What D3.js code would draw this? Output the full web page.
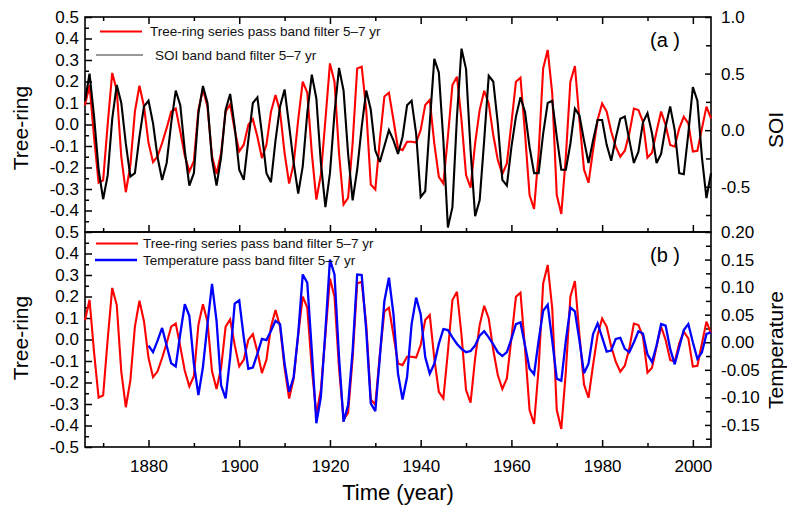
<!DOCTYPE html>
<html>
<head>
<meta charset="utf-8">
<script src="https://cdn.jsdelivr.net/npm/d3@7"></script>
<style>
  html, body { margin: 0; padding: 0; background: #fff; }
  svg { display: block; font-family: "Liberation Sans", Arial, sans-serif; }
</style>
</head>
<body>
<svg id="chart" width="787" height="508"></svg>
<script>
// Annual series, 1866-2004
const firstYear = 1866;
const tempFirstYear = 1880;

// Tree-ring series, 5-7 yr band-pass filtered
const treeRing = [
  0.09, 0.185, -0.06, -0.27, -0.26, 0.0, 0.24, 0.16, -0.15, -0.315,
  -0.19, 0.06, 0.18, 0.085, -0.085, -0.175, -0.148, -0.086, -0.017, 0.06,
  0.074, -0.032, -0.145, -0.218, -0.171, 0.068, 0.164, 0.083, -0.148, -0.23,
  -0.133, 0.06, 0.094, -0.025, -0.125, -0.094, -0.002, 0.025, -0.056, -0.156,
  -0.094, 0.06, 0.137, 0.06, -0.133, -0.275, -0.182, 0.022, 0.199, 0.148,
  -0.133, -0.349, -0.233, 0.022, 0.284, 0.199, -0.133, -0.372, -0.341, -0.086,
  0.261, 0.269, 0.068, -0.279, -0.302, -0.07, 0.13, 0.148, 0.021, -0.111,
  -0.119, -0.08, -0.08, -0.084, -0.026, 0.091, 0.114, -0.088, -0.243, -0.274,
  -0.057, 0.184, 0.222, 0.021, -0.235, -0.294, -0.088, 0.067, 0.157, 0.098,
  -0.049, -0.165, -0.23, -0.181, 0.005, 0.199, 0.218, -0.041, -0.328, -0.393,
  -0.134, 0.261, 0.347, 0.145, -0.328, -0.416, -0.15, 0.199, 0.272, 0.021,
  -0.209, -0.271, -0.119, 0.021, 0.098, 0.06, -0.033, -0.103, -0.15, -0.122,
  -0.041, 0.074, 0.067, 0.013, -0.154, -0.131, -0.033, 0.06, -0.002, -0.095,
  -0.103, -0.018, 0.036, 0.005, -0.126, -0.122, -0.018, 0.083, 0.029
];

// SOI, 5-7 yr band-pass filtered
const soi = [
  0.26, 0.50, 0.12, -0.35, -0.61, -0.40, 0.10, 0.40, 0.24, -0.12,
  -0.41, -0.38, -0.06, 0.21, 0.26, 0.06, -0.24, -0.44, -0.29, 0.06,
  0.35, 0.22, -0.18, -0.49, -0.38, 0.15, 0.39, 0.24, -0.26, -0.49,
  -0.24, 0.18, 0.32, 0.03, -0.35, -0.44, -0.09, 0.24, 0.29, -0.03,
  -0.38, -0.46, -0.09, 0.21, 0.36, 0.04, -0.29, -0.56, -0.32, 0.15,
  0.49, 0.28, -0.29, -0.68, -0.38, 0.15, 0.55, 0.35, -0.21, -0.62,
  -0.35, 0.03, 0.35, 0.18, -0.18, -0.28, -0.14, 0.0, -0.09, -0.21,
  -0.06, 0.22, 0.26, -0.03, -0.59, -0.54, 0.06, 0.63, 0.51, -0.09,
  -0.86, -0.68, 0.12, 0.72, 0.54, -0.18, -0.76, -0.62, -0.09, 0.48,
  0.43, 0.06, -0.44, -0.49, -0.15, 0.12, 0.29, 0.16, -0.15, -0.38,
  -0.38, -0.03, 0.24, 0.26, -0.06, -0.35, -0.35, -0.12, 0.19, 0.13,
  -0.09, -0.29, -0.09, 0.09, 0.09, -0.13, -0.27, -0.07, 0.10, 0.12,
  -0.09, -0.29, -0.19, 0.07, 0.15, -0.03, -0.29, -0.21, 0.03, 0.21,
  0.0, -0.38, -0.39, -0.03, 0.38, 0.26, -0.24, -0.60, -0.38
];

// Temperature, 5-7 yr band-pass filtered (from 1880)
const temperature = [
  -0.006, -0.018, 0.003, 0.026, -0.006, -0.038, -0.044, 0.015, 0.069, 0.048,
  -0.039, -0.096, -0.045, 0.033, 0.106, 0.039, -0.078, -0.102, -0.027, 0.070,
  0.076, 0.009, -0.048, -0.046, -0.021, 0.006, 0.004, 0.021, 0.039, 0.033,
  -0.039, -0.090, -0.063, 0.015, 0.123, 0.108, -0.015, -0.147, -0.099, 0.021,
  0.150, 0.123, -0.027, -0.144, -0.114, -0.015, 0.123, 0.122, 0.021, -0.111,
  -0.125, -0.027, 0.075, 0.117, 0.051, -0.057, -0.104, -0.063, 0.033, 0.081,
  0.051, -0.027, -0.057, -0.039, -0.003, 0.024, 0.022, 0.009, -0.003, -0.012,
  -0.018, -0.016, -0.006, 0.012, 0.020, 0.009, -0.004, -0.018, -0.025, -0.018,
  0.006, 0.033, 0.036, -0.006, -0.048, -0.058, 0.003, 0.057, 0.068, 0.003,
  -0.066, -0.070, 0.003, 0.063, 0.056, 0.003, -0.056, -0.039, 0.015, 0.034,
  0.009, -0.017, -0.015, 0.006, 0.008, -0.012, -0.018, 0.0, 0.020, 0.016,
  -0.022, -0.036, -0.006, 0.033, 0.030, -0.012, -0.040, -0.009, 0.022, 0.033,
  0.0, -0.030, -0.018, 0.015, 0.018
];

// Axis ticks and labels
const yearTicks = [1880, 1900, 1920, 1940, 1960, 1980, 2000];
const yearMinorTicks = [1870, 1890, 1910, 1930, 1950, 1970, 1990];
const treeTicksA = [0.5, 0.4, 0.3, 0.2, 0.1, 0.0, -0.1, -0.2, -0.3, -0.4];
const treeTicksB = [0.5, 0.4, 0.3, 0.2, 0.1, 0.0, -0.1, -0.2, -0.3, -0.4, -0.5];
const soiTicks = [1.0, 0.5, 0.0, -0.5];
const soiMinorTicks = [0.75, 0.25, -0.25, -0.75];
const tempTicks = [0.20, 0.15, 0.10, 0.05, 0.00, -0.05, -0.10, -0.15];
const legendA = ["Tree-ring series pass band filter 5\u20137 yr", "SOI band band filter 5\u20137 yr"];
const legendB = ["Tree-ring series pass band filter 5\u20137 yr", "Temperature pass band filter 5\u20137 yr"];

const RED = "#ff0000", BLUE = "#0000ff", BLACK = "#000000";

const svg = d3.select("#chart");
svg.append("rect").attr("width", 787).attr("height", 508).attr("fill", "#fff");

const L = 85, R = 711;
const topA = 17, botA = 232, topB = 232, botB = 447;

const x = d3.scaleLinear().domain([1866, 2004]).range([L, R]);
const yTreeA = d3.scaleLinear().domain([-0.5, 0.5]).range([botA, topA]);
const ySoi = d3.scaleLinear().domain([-0.9, 1.0]).range([botA, topA]);
const yTreeB = d3.scaleLinear().domain([-0.5, 0.5]).range([botB, topB]);
const yTemp = d3.scaleLinear().domain([-0.19, 0.2]).range([botB, topB]);

const years = treeRing.map((_, i) => firstYear + i);
const tempYears = temperature.map((_, i) => tempFirstYear + i);

const fmt1 = v => d3.format(".1f")(v).replace("\u2212", "-");
const fmt2 = v => d3.format(".2f")(v).replace("\u2212", "-");

function styleAxis(g, size) {
  g.select(".domain").remove();
  g.selectAll("line").attr("stroke", "#000").attr("stroke-width", 1.5);
  g.selectAll("text")
    .attr("font-family", "'Liberation Sans', Arial, sans-serif")
    .attr("font-size", size).attr("fill", "#000");
}

// ---- x axes (ticks point inward) ----
function xAxes(yPos, dir, withLabels) {
  const major = (dir === "bottom" ? d3.axisBottom(x) : d3.axisTop(x))
    .tickValues(yearTicks).tickSizeInner(-7).tickSizeOuter(0).tickPadding(13)
    .tickFormat(withLabels ? d3.format("d") : "");
  const gM = svg.append("g").attr("transform", `translate(0,${yPos})`).call(major);
  styleAxis(gM, 17);
  const minor = (dir === "bottom" ? d3.axisBottom(x) : d3.axisTop(x))
    .tickValues(yearMinorTicks).tickSizeInner(-4).tickSizeOuter(0).tickFormat("");
  styleAxis(svg.append("g").attr("transform", `translate(0,${yPos})`).call(minor), 17);
}
xAxes(botB, "bottom", true);
xAxes(botA, "bottom", false);
xAxes(topA, "top", false);

// ---- left axes ----
function leftAxis(scale, ticks, minorTicks) {
  const g = svg.append("g").attr("transform", `translate(${L},0)`)
    .call(d3.axisLeft(scale).tickValues(ticks).tickFormat(fmt1)
      .tickSizeInner(-7).tickSizeOuter(0).tickPadding(6));
  styleAxis(g, 17);
  const gm = svg.append("g").attr("transform", `translate(${L},0)`)
    .call(d3.axisLeft(scale).tickValues(minorTicks).tickFormat("")
      .tickSizeInner(-4).tickSizeOuter(0));
  styleAxis(gm, 17);
}
const halfSteps = [0.45, 0.35, 0.25, 0.15, 0.05, -0.05, -0.15, -0.25, -0.35, -0.45];
leftAxis(yTreeA, treeTicksA, halfSteps);
leftAxis(yTreeB, treeTicksB, halfSteps);

// ---- right axes ----
function rightAxis(scale, ticks, fmt, minorTicks) {
  const g = svg.append("g").attr("transform", `translate(${R},0)`)
    .call(d3.axisRight(scale).tickValues(ticks).tickFormat(fmt)
      .tickSizeInner(-6).tickSizeOuter(0).tickPadding(10));
  styleAxis(g, 17);
  const gm = svg.append("g").attr("transform", `translate(${R},0)`)
    .call(d3.axisRight(scale).tickValues(minorTicks).tickFormat("")
      .tickSizeInner(-5).tickSizeOuter(0));
  styleAxis(gm, 17);
}
rightAxis(ySoi, soiTicks, fmt1, soiMinorTicks);
rightAxis(yTemp, tempTicks, fmt2, [0.175, 0.125, 0.075, 0.025, -0.025, -0.075, -0.125, -0.175]);

// ---- frames ----
[[topA, botA], [topB, botB]].forEach(([t, b]) => {
  svg.append("rect").attr("x", L).attr("y", t).attr("width", R - L).attr("height", b - t)
    .attr("fill", "none").attr("stroke", "#000").attr("stroke-width", 1.6);
});

// ---- series ----
function drawLine(xs, vals, scale, color, width) {
  const line = d3.line().x((d, i) => x(xs[i])).y(d => scale(d));
  svg.append("path").datum(vals).attr("d", line)
    .attr("fill", "none").attr("stroke", color).attr("stroke-width", width)
    .attr("stroke-linejoin", "miter").attr("stroke-miterlimit", 3);
}
drawLine(years, treeRing, yTreeA, RED, 2.1);
drawLine(years, soi, ySoi, BLACK, 2.1);
drawLine(years, treeRing, yTreeB, RED, 2.1);
drawLine(tempYears, temperature, yTemp, BLUE, 2.3);

// ---- legends ----
function legendRow(x1, x2, ly, color, width, tx, ty, label) {
  svg.append("line").attr("x1", x1).attr("x2", x2).attr("y1", ly).attr("y2", ly)
    .attr("stroke", color).attr("stroke-width", width);
  svg.append("text").attr("x", tx).attr("y", ty).attr("font-size", 13.5)
    .attr("fill", "#111").text(label);
}
legendRow(100, 142, 31.5, RED, 2.2, 150, 36, legendA[0]);
legendRow(96, 143, 55, "#333", 1.2, 155, 59.5, legendA[1]);
legendRow(96, 138, 243.5, RED, 2.2, 143, 248, legendB[0]);
legendRow(95, 137, 260, BLUE, 2.4, 143, 264.5, legendB[1]);

// ---- panel tags ----
svg.append("text").attr("x", 650).attr("y", 47).attr("font-size", 20).text("(a )");
svg.append("text").attr("x", 650).attr("y", 262).attr("font-size", 20).text("(b )");

// ---- axis titles ----
function vTitle(cx, cy, label) {
  svg.append("text").attr("transform", `translate(${cx},${cy}) rotate(-90)`)
    .attr("text-anchor", "middle").attr("font-size", 21).text(label);
}
vTitle(28, 128, "Tree-ring");
vTitle(28, 338, "Tree-ring");
vTitle(783, 130, "SOI");
vTitle(783, 350, "Temperature");
svg.append("text").attr("x", (L + R) / 2).attr("y", 500).attr("text-anchor", "middle")
  .attr("font-size", 22).text("Time (year)");
</script>
</body>
</html>
